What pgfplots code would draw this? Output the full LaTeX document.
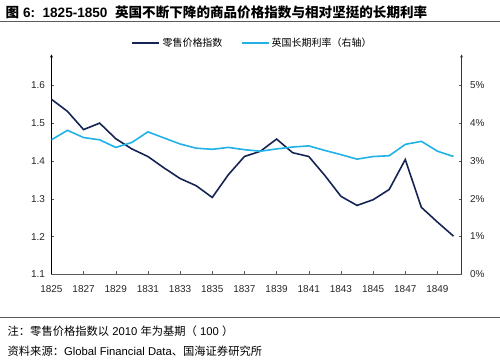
\documentclass[border=0pt]{standalone}
\usepackage{pgfplots}
\pgfplotsset{compat=1.18}
\usepackage{fontspec}
\setmainfont{Liberation Sans}
\newfontfamily\cjk{Noto Sans CJK SC}
\definecolor{navy}{RGB}{22,36,84}
\definecolor{cyanl}{RGB}{32,178,230}
\definecolor{axgray}{RGB}{90,90,90}
\pgfplotstableread{
year price
1825 1.562
1826 1.530
1827 1.482
1828 1.499
1829 1.458
1830 1.431
1831 1.411
1832 1.381
1833 1.353
1834 1.334
1835 1.303
1836 1.363
1837 1.411
1838 1.425
1839 1.457
1840 1.421
1841 1.411
1842 1.361
1843 1.306
1844 1.282
1845 1.297
1846 1.324
1847 1.403
1848 1.277
1849 1.238
1850 1.201
}\pricetable
\pgfplotstableread{
year rate
1825 3.55
1826 3.80
1827 3.61
1828 3.55
1829 3.35
1830 3.48
1831 3.76
1832 3.60
1833 3.44
1834 3.33
1835 3.30
1836 3.35
1837 3.29
1838 3.25
1839 3.31
1840 3.36
1841 3.39
1842 3.27
1843 3.16
1844 3.04
1845 3.11
1846 3.13
1847 3.43
1848 3.51
1849 3.25
1850 3.11
}\ratetable
\begin{document}
\begin{tikzpicture}[x=1pt,y=1pt]
\path (0,0) rectangle (500,364);
% title
\node[anchor=west,inner sep=0pt] at (5,352) {\bfseries\fontsize{13.6}{15}\selectfont{\cjk\bfseries 图} 6:\ \ 1825-1850\ \ {\cjk\bfseries 英国不断下降的商品价格指数与相对坚挺的长期利率}};
\draw[axgray,line width=1pt] (0,342) -- (500,342);
\draw[axgray,line width=0.8pt] (0,46) -- (500,46);
\node[anchor=west,inner sep=0pt] at (7,32) {\fontsize{11.3}{13}\selectfont{\cjk 注：零售价格指数以} 2010 {\cjk 年为基期（} 100 {\cjk ）}};
\node[anchor=west,inner sep=0pt] at (7,12) {\fontsize{11.3}{13}\selectfont{\cjk 资料来源：}Global Financial Data{\cjk 、国海证券研究所}};
\begin{axis}[
  at={(51pt,89pt)}, anchor=south west,
  scale only axis, width=411pt, height=220.4pt,
  xmin=1825, xmax=1850.5, ymin=1.1, ymax=1.68,
  axis x line*=bottom, axis y line*=left,
  x axis line style={-, axgray},
  y axis line style={-stealth, black},
  xtick={1825,1827,...,1849},
  ytick={1.1,1.2,...,1.65},
  tick align=inside,
  major tick length=3pt,
  tick style={axgray},
  xticklabel style={/pgf/number format/1000 sep={}},
  yticklabel style={/pgf/number format/fixed,/pgf/number format/precision=1,/pgf/number format/fixed zerofill},
  /pgf/number format/assume math mode=true,
  tick label style={font=\fontsize{10}{12}\selectfont, text=black!85},
  xticklabel shift=8pt,
  yticklabel shift=3pt,
]
\addplot[navy, line width=1.6pt, mark=none] table[x=year,y=price] {\pricetable};
\end{axis}
\begin{axis}[
  at={(51pt,89pt)}, anchor=south west,
  scale only axis, width=411pt, height=220.4pt,
  xmin=1825, xmax=1850.5, ymin=0, ymax=5.8,
  axis x line=none, axis y line*=right,
  y axis line style={-stealth, black!80},
  ytick={0,1,...,5},
  yticklabel={\pgfmathprintnumber{\tick}\%},
  tick align=inside,
  major tick length=3pt,
  tick style={axgray},
  /pgf/number format/assume math mode=true,
  tick label style={font=\fontsize{10}{12}\selectfont, text=black!85},
  yticklabel shift=5pt,
  legend style={at={(0.49,1.01)}, anchor=south, draw=none, fill=none,
    legend columns=2, font=\fontsize{10}{12}\selectfont\cjk,
    /tikz/every even column/.append style={column sep=16pt}},
  legend image code/.code={\draw[#1, line width=2.4pt] (0pt,0pt) -- (27pt,0pt);},
]
\addlegendimage{navy, line width=1.6pt}
\addlegendentry{零售价格指数}
\addplot[cyanl, line width=1.6pt, mark=none] table[x=year,y=rate] {\ratetable};
\addlegendentry{英国长期利率（右轴）}
\end{axis}
\end{tikzpicture}
\end{document}
